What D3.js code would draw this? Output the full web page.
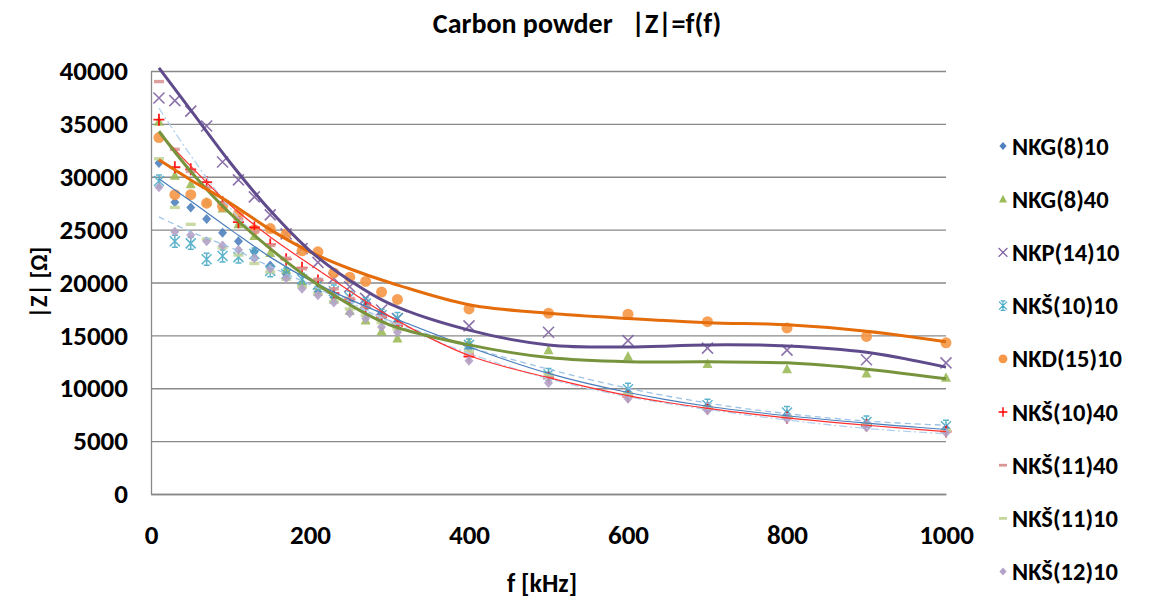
<!DOCTYPE html>
<html>
<head>
<meta charset="utf-8">
<script src="https://cdn.jsdelivr.net/npm/d3@7"></script>
<style>
  body { margin: 0; background: #fff; }
  text { font-family: Calibri, Carlito, Lato, sans-serif; font-weight: bold; fill: #000; }
</style>
</head>
<body>
<div class="chart"></div>
<script>
// measured frequencies (kHz)
const freqs = [10, 30, 50, 70, 90, 110, 130, 150, 170, 190, 210, 230, 250, 270, 290, 310, 400, 500, 600, 700, 800, 900, 1000];

// |Z| values per sample (Ohm)
const nkg810   = [31300, 27600, 27100, 26000, 24700, 23900, 22900, 21600, 20800, 19800, 19100, 18600, 18200, 17800, 17000, 16300, 13800, 11200, 9600, 8300, 7500, 6700, 6200];
const nkg840   = [35200, 30100, 29300, 27600, 27000, 25500, 24400, 22800, 21200, 20000, 19700, 18400, 17300, 16400, 15400, 14700, 14300, 13600, 13000, 12300, 11800, 11400, 11000];
const nkp1410  = [37450, 37200, 36200, 34800, 31400, 29700, 28100, 26400, 24600, 23200, 21900, 20400, 19600, 18500, 17400, 16600, 15900, 15300, 14500, 13800, 13600, 12700, 12400];
const nks1010  = [29600, 23900, 23700, 22200, 22500, 22400, 22700, 21100, 20800, 20300, 19800, 19200, 18600, 18000, 16900, 16600, 14100, 11300, 9900, 8400, 7700, 6800, 6400];
const nkd1510  = [33700, 28300, 28300, 27500, 27200, 26500, 25000, 25100, 24600, 23000, 22900, 20900, 20500, 20100, 19100, 18400, 17500, 17100, 17000, 16300, 15700, 14900, 14300];
const nks1040  = [35400, 30900, 30700, 29500, 27600, 25700, 25200, 23600, 22200, 21400, 20200, 19000, 18400, 17600, 16700, 15900, 13000, 11000, 9200, 8100, 7200, 6500, 5900];
const nks1140  = [39000, 32600, 30500, 29000, 27500, 26000, 24800, 23500, 22300, 21300, 20300, 19400, 18500, 17700, 16800, 16100, 13300, 11000, 9300, 8100, 7200, 6600, 6000];
const nks1110  = [31700, 27100, 25500, 24100, 23300, 22600, 21800, 21000, 20300, 19600, 18900, 18200, 17500, 16900, 16200, 15600, 13500, 11300, 9500, 8200, 7300, 6600, 6000];
const nks1210  = [29000, 24800, 24500, 23900, 23500, 23100, 22300, 21300, 20400, 19400, 18800, 18100, 17100, 16600, 15800, 15300, 12600, 10500, 9000, 7900, 7100, 6300, 5800];

// trendline knots
const trendF      = [10, 50, 100, 150, 200, 250, 300, 400, 500, 600, 700, 800, 900, 1000];
const trendNkp    = [40300, 36300, 31300, 26800, 23000, 20200, 18000, 15500, 14100, 13900, 14100, 14000, 13400, 12000];
const trendNkd    = [31600, 29700, 27500, 25000, 22900, 21300, 20000, 17900, 17100, 16600, 16200, 16000, 15400, 14400];
const trendNkg40  = [34300, 30500, 26500, 23200, 20300, 17900, 16000, 14100, 12900, 12500, 12500, 12400, 11800, 10900];
const trendNks40  = [34200, 31000, 27300, 24300, 21700, 19200, 16800, 13100, 11000, 9300, 8100, 7200, 6500, 5900];
const trendNkg10  = [29800, 27700, 25000, 22400, 20200, 18400, 16800, 13900, 11400, 9600, 8300, 7400, 6700, 6100];
const trendNks1140 = [36500, 32000, 27000, 23200, 20400, 18200, 16300, 13300, 10900, 9200, 8000, 7000, 6200, 5700];
const trendNks1210 = [26200, 24800, 23300, 21500, 19800, 18000, 16400, 13900, 11800, 10000, 8600, 7600, 6900, 6500];

const xTicks = [0, 200, 400, 600, 800, 1000];
const yTicks = [0, 5000, 10000, 15000, 20000, 25000, 30000, 35000, 40000];

const series = [
  {name: 'NKG(8)10',  values: nkg810,  marker: 'diamond',  color: '#4f81bd'},
  {name: 'NKG(8)40',  values: nkg840,  marker: 'triangle', color: '#9bbb59'},
  {name: 'NKP(14)10', values: nkp1410, marker: 'times',    color: '#8064a2'},
  {name: 'NKŠ(10)10', values: nks1010, marker: 'star',     color: '#4bacc6'},
  {name: 'NKD(15)10', values: nkd1510, marker: 'circle',   color: '#f79646'},
  {name: 'NKŠ(10)40', values: nks1040, marker: 'plus',     color: '#ff0000'},
  {name: 'NKŠ(11)40', values: nks1140, marker: 'dash',     color: '#d99694'},
  {name: 'NKŠ(11)10', values: nks1110, marker: 'dash',     color: '#c3d69b'},
  {name: 'NKŠ(12)10', values: nks1210, marker: 'diamond',  color: '#b3a2c7'}
];

const trends = [
  {values: trendNks1210, color: '#9dc3e6', width: 1.3, dash: '6,4'},
  {values: trendNks1140, color: '#b4d2ef', width: 1.3, dash: '8,3,2,3'},
  {values: trendNkg10,   color: '#4a7ebb', width: 1.2, dash: null},
  {values: trendNks40,   color: '#ff3030', width: 1.2, dash: null},
  {values: trendNkg40,   color: '#77933c', width: 3,   dash: null},
  {values: trendNkd,     color: '#e46c0a', width: 3,   dash: null},
  {values: trendNkp,     color: '#5f4b8b', width: 3,   dash: null}
];

const W = 1164, H = 603;
const margin = {top: 71, left: 151, right: 218, bottom: 109};
const width = W - margin.left - margin.right,
      height = H - margin.top - margin.bottom;

const svg = d3.select('.chart').append('svg')
  .attr('width', W).attr('height', H);

const g = svg.append('g')
  .attr('transform', 'translate(' + margin.left + ',' + margin.top + ')');

const x = d3.scaleLinear().domain([0, 1000]).range([0, width]);
const y = d3.scaleLinear().domain([0, 40000]).range([height, 0]);

// gridlines
g.append('g')
  .call(d3.axisLeft(y).tickValues(yTicks).tickSize(-width).tickFormat(''))
  .call(a => a.select('.domain').remove())
  .call(a => a.selectAll('.tick line').attr('stroke', '#898989').attr('stroke-width', 1.3));

// y axis
g.append('g')
  .call(d3.axisLeft(y).tickValues(yTicks).tickSize(0).tickPadding(23).tickFormat(d3.format('d')))
  .call(a => a.select('.domain').attr('stroke', '#898989').attr('stroke-width', 1.3))
  .call(a => a.selectAll('.tick text').style('font-size', '27px'));

// x axis
g.append('g')
  .attr('transform', 'translate(0,' + height + ')')
  .call(d3.axisBottom(x).tickValues(xTicks).tickSize(0).tickPadding(31).tickFormat(d3.format('d')))
  .call(a => a.select('.domain').attr('stroke', '#898989').attr('stroke-width', 1.3))
  .call(a => a.selectAll('.tick text').style('font-size', '27px'));

// symbols
function drawMarker(sel, type, color) {
  switch (type) {
    case 'diamond':
      sel.append('path').attr('d', 'M0,-5L4.5,0L0,5L-4.5,0Z').attr('fill', color);
      break;
    case 'triangle':
      sel.append('path').attr('d', 'M0,-5.5L5,4L-5,4Z').attr('fill', color);
      break;
    case 'circle':
      sel.append('circle').attr('r', 5.5).attr('fill', color);
      break;
    case 'times':
      sel.append('path').attr('d', 'M-5.5,-5.5L5.5,5.5M-5.5,5.5L5.5,-5.5')
        .attr('stroke', color).attr('stroke-width', 1.6).attr('fill', 'none');
      break;
    case 'plus':
      sel.append('path').attr('d', 'M-5.5,0L5.5,0M0,-6L0,6')
        .attr('stroke', color).attr('stroke-width', 1.8).attr('fill', 'none');
      break;
    case 'star':
      sel.append('path').attr('d', 'M-5,-5L5,5M-5,5L5,-5M0,-6L0,6M-3,-6L3,-6M-3,6L3,6')
        .attr('stroke', color).attr('stroke-width', 1.5).attr('fill', 'none');
      break;
    case 'dash':
      sel.append('rect').attr('x', -5).attr('y', -1.7).attr('width', 10).attr('height', 3.4).attr('fill', color);
      break;
  }
}

// data markers
series.forEach(s => {
  const pts = g.append('g').attr('opacity', 0.9)
    .selectAll('g').data(s.values).join('g')
    .attr('transform', (d, i) => 'translate(' + x(freqs[i]) + ',' + y(d) + ')');
  drawMarker(pts, s.marker, s.color);
});

// trendlines
const line = d3.line()
  .x((d, i) => x(trendF[i]))
  .y(d => y(d))
  .curve(d3.curveCatmullRom.alpha(0.5));

trends.forEach(t => {
  g.append('path')
    .datum(t.values)
    .attr('fill', 'none')
    .attr('stroke', t.color)
    .attr('stroke-width', t.width)
    .attr('stroke-dasharray', t.dash)
    .attr('d', line);
});

// legend
const legend = svg.append('g').attr('transform', 'translate(1003,146)');
series.forEach((s, i) => {
  const row = legend.append('g').attr('transform', 'translate(0,' + (i * 53.2) + ')');
  const m = row.append('g').attr('transform', 'scale(0.8)');
  drawMarker(m, s.marker, s.color);
  row.append('text').attr('x', 9).attr('y', 8.5).style('font-size', '24.5px').text(s.name);
});

// titles
svg.append('text')
  .attr('x', 577).attr('y', 33)
  .attr('xml:space', 'preserve')
  .style('white-space', 'pre')
  .style('text-anchor', 'middle').style('font-size', '28px')
  .text('Carbon powder   |Z|=f(f)');

svg.append('text')
  .attr('transform', 'translate(47,' + (margin.top + height / 2) + ') rotate(-90)')
  .style('text-anchor', 'middle').style('font-size', '24px')
  .text('|Z| [Ω]');

svg.append('text')
  .attr('x', 542).attr('y', 592)
  .style('text-anchor', 'middle').style('font-size', '26px')
  .text('f [kHz]');
</script>
</body>
</html>
